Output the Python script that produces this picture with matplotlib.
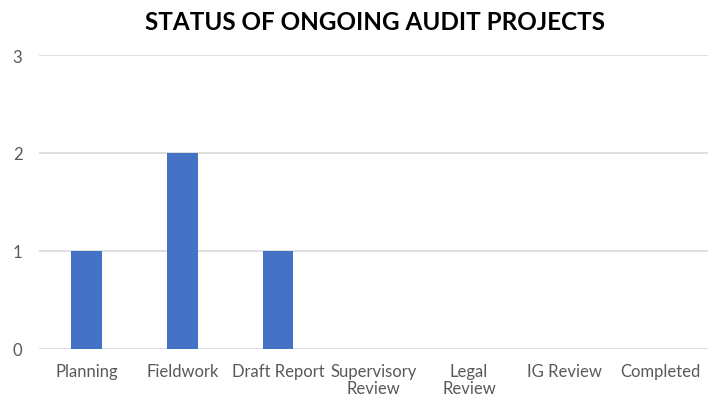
import numpy as np
import matplotlib.pyplot as plt

categories = ['Planning', 'Fieldwork', 'Draft Report', 'Supervisory\nReview',
              'Legal\nReview', 'IG Review', 'Completed']
counts = [1, 2, 1, 0, 0, 0, 0]

plt.rcParams['font.family'] = ['Lato', 'DejaVu Sans']

fig = plt.figure(figsize=(7.08, 4.02), dpi=100)
ax = fig.add_axes([39/708, 52/402, 1 - 39/708, 294/402])

x = np.arange(len(categories))
ax.bar(x, counts, width=0.32, color='#4472C4', zorder=3)

ax.set_xlim(-0.5, len(categories) - 0.5)
ax.set_ylim(0, 3)
ax.set_yticks([0, 1, 2, 3])
ax.yaxis.grid(True, color='#D9D9D9', linewidth=1.2, zorder=0)
ax.set_xticks(x)
ax.set_xticklabels(categories, fontsize=12, color='#595959', linespacing=1.05)
ax.tick_params(axis='y', labelsize=12, labelcolor='#595959', length=0, pad=12)
ax.tick_params(axis='x', length=0, pad=10)
for s in ax.spines.values():
    s.set_visible(False)

fig.text(0.53, 0.945, 'STATUS OF ONGOING AUDIT PROJECTS', ha='center', va='center',
         fontsize=17.5, fontweight='bold', color='#000000')

plt.savefig('out.png', dpi=100)
